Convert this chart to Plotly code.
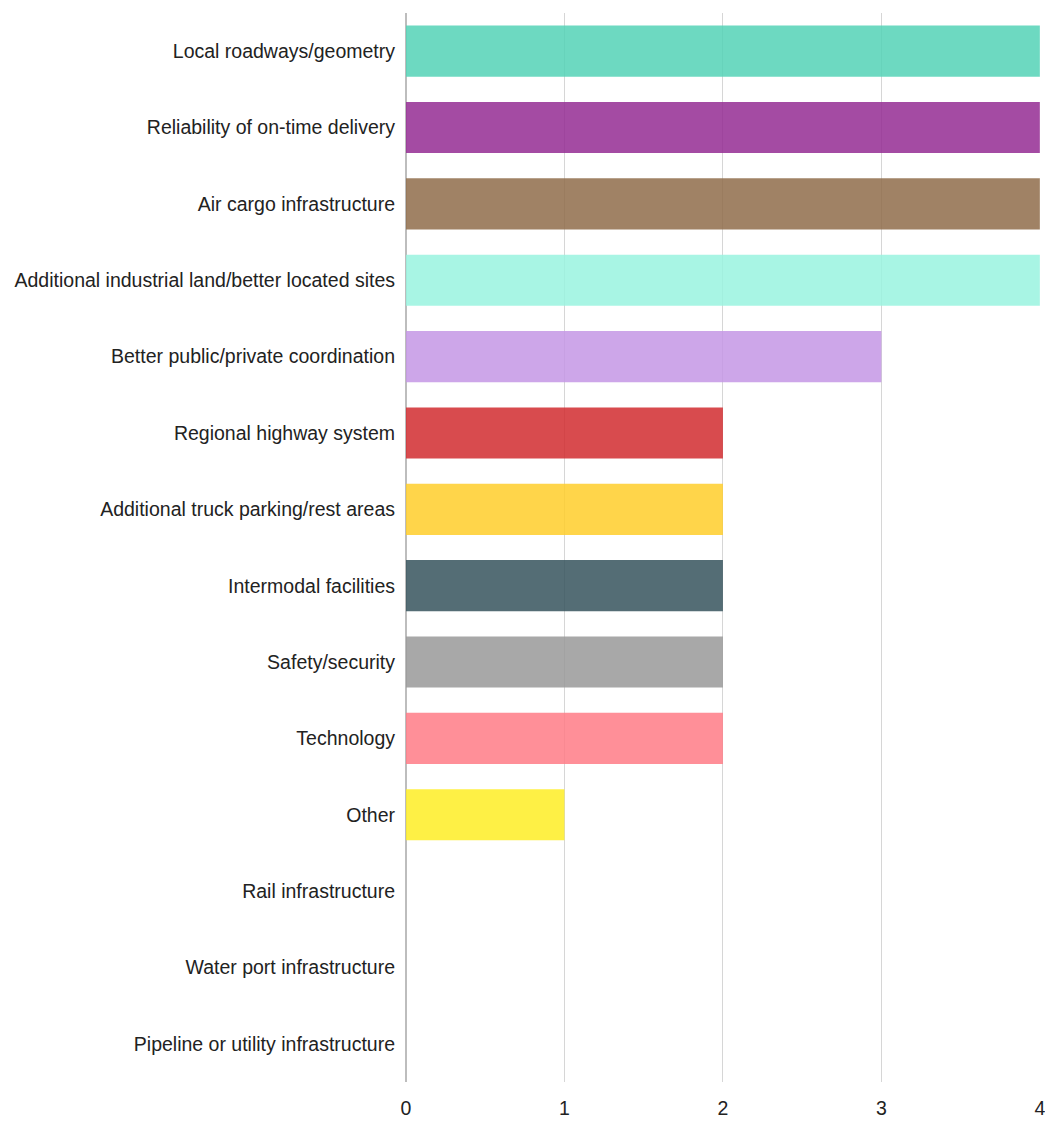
import plotly.graph_objects as go

categories = [
    "Local roadways/geometry",
    "Reliability of on-time delivery",
    "Air cargo infrastructure",
    "Additional industrial land/better located sites",
    "Better public/private coordination",
    "Regional highway system",
    "Additional truck parking/rest areas",
    "Intermodal facilities",
    "Safety/security",
    "Technology",
    "Other",
    "Rail infrastructure",
    "Water port infrastructure",
    "Pipeline or utility infrastructure",
]
values = [4, 4, 4, 4, 3, 2, 2, 2, 2, 2, 1, 0, 0, 0]
colors = [
    "rgba(83,210,182,0.85)",
    "rgba(148,43,147,0.85)",
    "rgba(143,108,74,0.85)",
    "rgba(153,243,223,0.85)",
    "rgba(196,150,229,0.85)",
    "rgba(209,44,47,0.85)",
    "rgba(255,206,42,0.85)",
    "rgba(54,84,93,0.85)",
    "rgba(153,153,153,0.85)",
    "rgba(255,123,134,0.85)",
    "rgba(254,237,36,0.85)",
    "rgba(200,200,200,0.85)",
    "rgba(200,200,200,0.85)",
    "rgba(200,200,200,0.85)",
]
x_ticks = [0, 1, 2, 3, 4]

fig = go.Figure(go.Bar(
    x=values, y=categories, orientation="h",
    marker=dict(color=colors, line=dict(width=0)),
    hoverinfo="x+y",
))

fig.update_layout(
    width=1045, height=1121,
    margin=dict(l=406, r=5, t=13, b=39, autoexpand=False),
    paper_bgcolor="white", plot_bgcolor="white",
    font=dict(family="Liberation Sans, Arial, sans-serif", size=19.5, color="#222222"),
    bargap=0.33,
    showlegend=False,
    xaxis=dict(
        range=[0, 4.001], tickvals=x_ticks, showgrid=True, gridcolor="#d6d6d6", gridwidth=1,
        zeroline=True, zerolinecolor="#bdbdbd", zerolinewidth=1.5,
        showline=False, ticks="", ticklabelstandoff=12, ticklabeloverflow="allow",
        fixedrange=True, automargin=False,
    ),
    yaxis=dict(
        categoryorder="array", categoryarray=categories, autorange="reversed",
        showgrid=False, zeroline=False, showline=False, ticks="",
        ticklabelstandoff=10, fixedrange=True, automargin=False,
    ),
)

fig.write_html("out.html")
